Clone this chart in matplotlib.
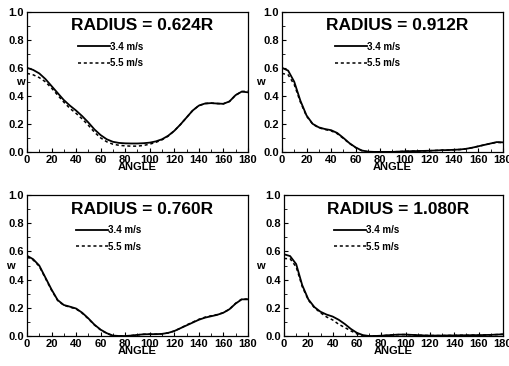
import matplotlib.pyplot as plt
import numpy as np
from matplotlib.ticker import MultipleLocator

plt.rcParams['font.family'] = ['Liberation Sans', 'DejaVu Sans']
plt.rcParams['font.weight'] = 'bold'

angle = np.arange(0, 181, 5)

# w at 0.624R
w624_34 = [0.600, 0.585, 0.560, 0.520, 0.470, 0.420, 0.370, 0.330, 0.295, 0.255,
           0.210, 0.160, 0.120, 0.090, 0.072, 0.064, 0.061, 0.060, 0.060, 0.062,
           0.066, 0.075, 0.090, 0.115, 0.150, 0.195, 0.245, 0.295, 0.330, 0.345,
           0.348, 0.345, 0.343, 0.360, 0.405, 0.430, 0.425]
w624_55 = [0.560, 0.550, 0.530, 0.500, 0.455, 0.405, 0.355, 0.310, 0.275, 0.235,
           0.190, 0.140, 0.100, 0.072, 0.055, 0.047, 0.043, 0.041, 0.041, 0.046,
           0.055, 0.068, 0.086, 0.112, 0.150, 0.195, 0.245, 0.295, 0.330, 0.345,
           0.348, 0.345, 0.343, 0.360, 0.405, 0.430, 0.435]

# w at 0.912R
w912_34 = [0.600, 0.580, 0.500, 0.365, 0.260, 0.200, 0.175, 0.163, 0.155, 0.135,
           0.100, 0.062, 0.032, 0.010, 0.002, 0.000, 0.000, 0.000, 0.000, 0.002,
           0.004, 0.005, 0.006, 0.007, 0.008, 0.010, 0.012, 0.013, 0.015, 0.017,
           0.022, 0.030, 0.040, 0.050, 0.060, 0.070, 0.068]
w912_55 = [0.560, 0.550, 0.480, 0.355, 0.255, 0.198, 0.172, 0.160, 0.150, 0.130,
           0.096, 0.060, 0.030, 0.009, 0.001, 0.000, 0.000, 0.000, 0.000, 0.002,
           0.004, 0.005, 0.006, 0.007, 0.008, 0.010, 0.012, 0.013, 0.015, 0.017,
           0.022, 0.030, 0.040, 0.050, 0.060, 0.068, 0.066]

# w at 0.760R
w760_34 = [0.570, 0.545, 0.500, 0.415, 0.330, 0.255, 0.220, 0.208, 0.195, 0.165,
           0.125, 0.080, 0.045, 0.020, 0.003, 0.000, 0.000, 0.003, 0.008, 0.012,
           0.013, 0.013, 0.015, 0.022, 0.035, 0.055, 0.075, 0.095, 0.115, 0.130,
           0.140, 0.150, 0.165, 0.190, 0.230, 0.260, 0.260]
w760_55 = [0.560, 0.540, 0.495, 0.410, 0.325, 0.252, 0.218, 0.205, 0.192, 0.162,
           0.122, 0.078, 0.043, 0.018, 0.002, 0.000, 0.000, 0.003, 0.008, 0.012,
           0.013, 0.013, 0.015, 0.022, 0.035, 0.055, 0.078, 0.098, 0.118, 0.133,
           0.143, 0.152, 0.165, 0.190, 0.232, 0.262, 0.262]

# w at 1.080R
w1080_34 = [0.580, 0.567, 0.510, 0.360, 0.260, 0.205, 0.172, 0.152, 0.138, 0.115,
            0.085, 0.050, 0.022, 0.006, 0.000, 0.000, 0.002, 0.005, 0.008, 0.010,
            0.010, 0.008, 0.006, 0.004, 0.003, 0.003, 0.003, 0.004, 0.004, 0.005,
            0.005, 0.006, 0.006, 0.007, 0.008, 0.010, 0.012]
w1080_55 = [0.550, 0.548, 0.490, 0.350, 0.255, 0.200, 0.165, 0.135, 0.114, 0.083,
            0.060, 0.036, 0.015, 0.002, 0.000, 0.000, 0.002, 0.005, 0.008, 0.010,
            0.010, 0.008, 0.006, 0.004, 0.003, 0.003, 0.003, 0.004, 0.004, 0.005,
            0.005, 0.006, 0.006, 0.007, 0.008, 0.010, 0.012]

titles = ['RADIUS = 0.624R', 'RADIUS = 0.912R', 'RADIUS = 0.760R', 'RADIUS = 1.080R']
series = [(w624_34, w624_55), (w912_34, w912_55), (w760_34, w760_55), (w1080_34, w1080_55)]
speeds = ['3.4 m/s', '5.5 m/s']

# panel boxes in figure fractions: left, bottom, width, height
boxes = [(0.053, 0.585, 0.434, 0.383), (0.554, 0.585, 0.434, 0.383),
         (0.053, 0.082, 0.434, 0.385), (0.558, 0.082, 0.430, 0.385)]
ylab_x = [-0.03, -0.10, -0.077, -0.11]
leg_x = [0.23, 0.24, 0.22, 0.23]

fig = plt.figure(figsize=(5.09, 3.66), dpi=100)

for i in range(4):
    ax = fig.add_axes(boxes[i])
    s34, s55 = series[i]
    ax.plot(angle, s34, color='black', lw=1.3, ls='-', label=speeds[0])
    ax.plot(angle, s55, color='black', lw=1.1, ls=(0, (2.0, 1.8)), label=speeds[1])

    ax.set_xlim(0, 180)
    ax.set_ylim(0, 1.0)
    ax.xaxis.set_major_locator(MultipleLocator(20))
    ax.xaxis.set_minor_locator(MultipleLocator(10))
    ax.yaxis.set_major_locator(MultipleLocator(0.2))
    ax.yaxis.set_minor_locator(MultipleLocator(0.1))
    ax.yaxis.set_major_formatter(lambda v, p: f'{v:.1f}')
    ax.tick_params(which='major', direction='in', length=3, width=0.8, pad=2,
                   labelsize=8)
    ax.tick_params(which='minor', direction='in', length=2, width=0.6)
    for lab in ax.get_xticklabels() + ax.get_yticklabels():
        lab.set_fontweight('bold')
    for sp in ax.spines.values():
        sp.set_linewidth(0.9)

    ax.set_xlabel('ANGLE', fontsize=8, fontweight='bold')
    ax.xaxis.set_label_coords(0.5, -0.072)
    ax.set_ylabel('w', fontsize=8, fontweight='bold', rotation=0, ha='center', va='center')
    ax.yaxis.set_label_coords(ylab_x[i], 0.5)

    ax.text(0.52, 0.9, titles[i], transform=ax.transAxes, ha='center', va='center',
            fontsize=12.5, fontweight='bold')
    ax.legend(loc='upper left', bbox_to_anchor=(leg_x[i], 0.785), frameon=False,
              fontsize=7, handlelength=3.3, handletextpad=0.0, labelspacing=0.65,
              borderpad=0, borderaxespad=0)

fig.savefig('out.png', dpi=100, facecolor='white')
